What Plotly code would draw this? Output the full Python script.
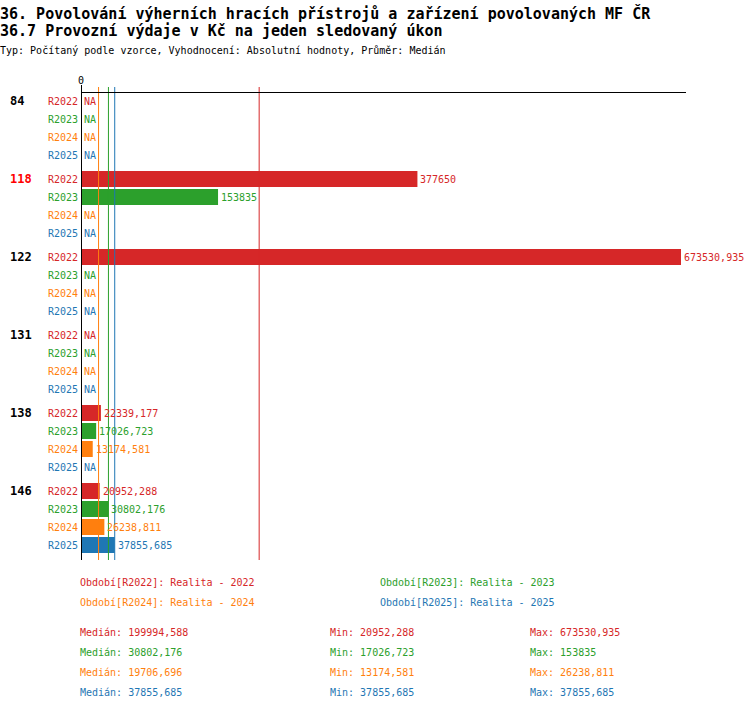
import plotly.graph_objects as go

# data
categories = ["84", "118", "122", "131", "138", "146"]
highlight = "118"
series = ["R2022", "R2023", "R2024", "R2025"]
colors = ["#d62728", "#2ca02c", "#ff7f0e", "#1f77b4"]

r2022 = [None, 377650, 673530.935, None, 22339.177, 20952.288]
r2023 = [None, 153835, None, None, 17026.723, 30802.176]
r2024 = [None, None, None, None, 13174.581, 26238.811]
r2025 = [None, None, None, None, None, 37855.685]
values = [r2022, r2023, r2024, r2025]

legend_names = ["Realita - 2022", "Realita - 2023", "Realita - 2024", "Realita - 2025"]
medians = [199994.588, 30802.176, 19706.696, 37855.685]
mins = [20952.288, 17026.723, 13174.581, 37855.685]
maxs = [673530.935, 153835, 26238.811, 37855.685]

MONO = "DejaVu Sans Mono"
ROW = 18
GROUP = 4 * ROW + 6
TOP, BOTTOM = 87, 560
PH = BOTTOM - TOP


def fmt(v):
    s = f"{v:.3f}".rstrip("0").rstrip(".")
    return s.replace(".", ",")


def py(pix):
    # page pixel row -> paper y
    return (BOTTOM - pix) / PH


def px(pix):
    return (pix - 81) / 605


fig = go.Figure()
annotations = []

for s, name in enumerate(series):
    ys = [g * GROUP + s * ROW for g in range(len(categories))]
    vals = values[s]
    fig.add_trace(go.Bar(
        x=vals, y=ys, orientation="h", width=16,
        marker=dict(color=colors[s], line=dict(width=0)),
        showlegend=False, hoverinfo="skip"))
    for v, y in zip(vals, ys):
        # value label (or NA) just right of the bar end
        annotations.append(dict(
            x=v if v is not None else 0, xref="x", y=y, yref="y",
            text=fmt(v) if v is not None else "NA", showarrow=False,
            xanchor="left", xshift=1,
            font=dict(family=MONO, size=10, color=colors[s])))
        annotations.append(dict(
            x=0, xref="paper", y=y, yref="y", text=name, showarrow=False,
            xanchor="right", xshift=-1,
            font=dict(family=MONO, size=10, color=colors[s])))

for g, cat in enumerate(categories):
    annotations.append(dict(
        x=px(8), xref="paper", y=g * GROUP, yref="y", text="<b>%s</b>" % cat,
        showarrow=False, xanchor="left",
        font=dict(family=MONO, size=12, color="#ff0000" if cat == highlight else "black")))

# titles
titles = [
    ("<b>36. Povolování výherních hracích přístrojů a zařízení povolovaných MF ČR</b>", 13, 15),
    ("<b>36.7 Provozní výdaje v Kč na jeden sledovaný úkon</b>", 31, 15),
    ("Typ: Počítaný podle vzorce, Vyhodnocení: Absolutní hodnoty, Průměr: Medián", 50, 10),
]
for text, yy, size in titles:
    annotations.append(dict(
        x=px(-2), xref="paper", y=py(yy), yref="paper", text=text, showarrow=False,
        xanchor="left", yanchor="middle", font=dict(family=MONO, size=size, color="black")))

# legend block
leg_pos = [(78, 582), (378, 582), (78, 602), (378, 602)]
for s, name in enumerate(series):
    x0, y0 = leg_pos[s]
    annotations.append(dict(
        x=px(x0), xref="paper", y=py(y0), yref="paper",
        text="Období[%s]: %s" % (name, legend_names[s]), showarrow=False,
        xanchor="left", yanchor="middle", font=dict(family=MONO, size=10, color=colors[s])))

# stats block
for s in range(len(series)):
    yy = 632 + 20 * s
    for x0, label, v in [(78, "Medián", medians[s]), (328, "Min", mins[s]), (528, "Max", maxs[s])]:
        annotations.append(dict(
            x=px(x0), xref="paper", y=py(yy), yref="paper",
            text="%s: %s" % (label, fmt(v)), showarrow=False,
            xanchor="left", yanchor="middle", font=dict(family=MONO, size=10, color=colors[s])))

shapes = []
for s in range(len(series)):
    shapes.append(dict(type="line", xref="x", yref="paper", x0=medians[s], x1=medians[s],
                       y0=0, y1=1, line=dict(color=colors[s], width=1), layer="above"))
shapes.append(dict(type="line", xref="paper", yref="paper", x0=0, x1=1,
                   y0=py(92.5), y1=py(92.5), line=dict(color="black", width=1)))
shapes.append(dict(type="line", xref="x", yref="paper", x0=0, x1=0,
                   y0=0, y1=py(85), line=dict(color="black", width=2), layer="above"))

xmax = max(maxs) * 605 / 600
fig.update_layout(
    width=750, height=710,
    margin=dict(l=81, r=64, t=TOP, b=710 - BOTTOM, pad=0),
    plot_bgcolor="white", paper_bgcolor="white",
    barmode="overlay", hovermode=False,
    xaxis=dict(range=[0, xmax], side="top", tickvals=[0], ticktext=["0"],
               showgrid=False, zeroline=False, ticks="", showline=False,
               tickfont=dict(family=MONO, size=10, color="black"), fixedrange=True),
    yaxis=dict(range=[PH - 14, -14], visible=False, fixedrange=True),
    annotations=annotations, shapes=shapes,
    font=dict(family=MONO, size=10),
)

fig.write_html("out.html", config={"displayModeBar": False},
               post_script="document.body.style.margin='0px';")
